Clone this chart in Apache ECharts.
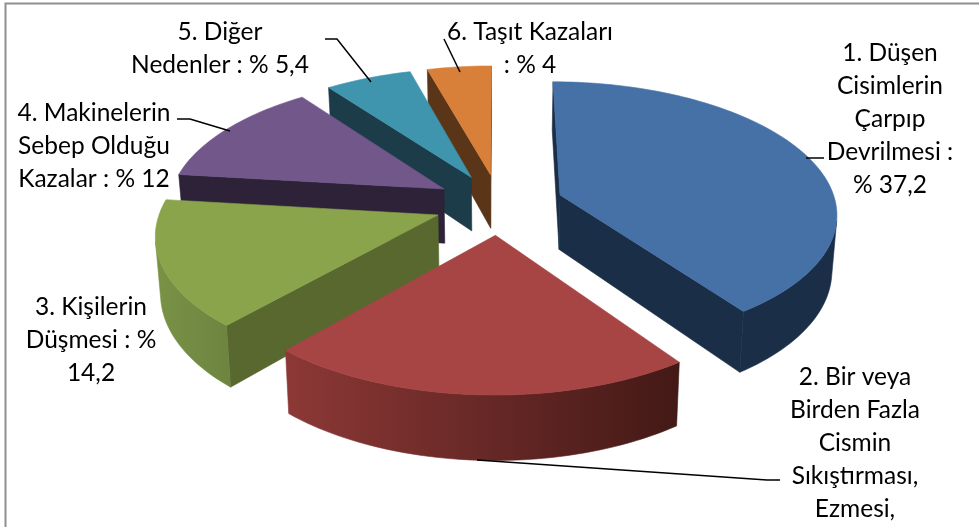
<!DOCTYPE html>
<html>
<head>
<meta charset="utf-8">
<style>html,body{margin:0;padding:0;background:#fff}#chart{width:979px;height:527px}</style>
<script src="https://cdn.jsdelivr.net/npm/echarts@6/dist/echarts.min.js"></script>
</head>
<body>
<div id="chart"></div>
<script>
// kaza nedenleri (%) - 2. dilimin etiketi kesik, değeri
const categories = ['Düşen Cisimlerin', 'Sıkıştırma', 'Kişilerin Düşmesi', 'Makineler', 'Diğer', 'Taşıt Kazaları']
const values = [37.2, 19.7, 14.2, 12, 5.4, 4]
const labelTexts = [
  '1. Düşen\nCisimlerin\nÇarpıp\nDevrilmesi :\n% 37,2',
  '2. Bir veya\nBirden Fazla\nCismin\nSıkıştırması,\nEzmesi,',
  '3. Kişilerin\nDüşmesi : %\n14,2',
  '4. Makinelerin\nSebep Olduğu\nKazalar : % 12',
  '5. Diğer\nNedenler : % 5,4',
  '6. Taşıt Kazaları\n: % 4'
]
const topColors = ['#4571a7', '#a64543', '#8aa44c', '#72578b', '#4095ae', '#d88039']
const wallColors = ['#1b2e47', '#4a1b19', '#58682f', '#2d2238', '#1b3c48', '#5a3518']
const outerColors = [
  ['#1b2e47', '#1b2e47'], ['#8c3836', '#431916'], ['#7a9245', '#6c843f'],
  ['#2d2238', '#2d2238'], ['#1b3c48', '#1b3c48'], ['#5a3518', '#5a3518']
]
// arkadan öne çizim sırası
const drawOrder = [5, 4, 3, 2, 0, 1]

// perspektif ayarları
const CX = 499, CY = 204, RX = 276, RY = 130, PERSP = 0.13, DEPTH = 55, BOTTOM_SHRINK = 0.985, EXPLODE = 0.234

const total = values.reduce((a, b) => a + b, 0)
const toRad = (d) => d * Math.PI / 180

function project(x, z, bottom) {
  const p = 1 / (1 + PERSP * z)
  let sx = CX + RX * x * p
  let sy = CY - RY * z * p
  if (bottom) {
    sx = CX + (sx - CX) * BOTTOM_SHRINK
    sy += DEPTH * p
  }
  return [sx, sy]
}

function area(pts) {
  let s = 0
  pts.forEach((p, i) => {
    const q = pts[(i + 1) % pts.length]
    s += p[0] * q[1] - q[0] * p[1]
  })
  return s
}

function sliceAngles(idx) {
  let sum = 0
  for (let i = 0; i < idx; i++) sum += values[i]
  return [sum / total * 360, (sum + values[idx]) / total * 360]
}

function poly(points, fill, stroke) {
  return {
    type: 'polygon',
    shape: { points },
    style: { fill, stroke: stroke || fill, lineWidth: 0.6 }
  }
}

function renderSlice(params, api) {
  const idx = api.value(0)
  const [a0, a1] = sliceAngles(idx)
  const mid = toRad((a0 + a1) / 2)
  const ox = Math.sin(mid) * EXPLODE
  const oz = Math.cos(mid) * EXPLODE
  const rim = (deg, bottom) => project(ox + Math.sin(toRad(deg)), oz + Math.cos(toRad(deg)), bottom)
  const apex = (bottom) => project(ox, oz, bottom)

  const steps = Math.ceil((a1 - a0) / 1.5)
  const angles = []
  for (let i = 0; i <= steps; i++) angles.push(a0 + (a1 - a0) * i / steps)

  const children = []
  // kesit yüzeyleri
  const startWall = [apex(false), rim(a0, false), rim(a0, true), apex(true)]
  const endWall = [apex(false), rim(a1, false), rim(a1, true), apex(true)]
  if (area(startWall) < 0) children.push(poly(startWall, wallColors[idx]))
  if (area(endWall) > 0) children.push(poly(endWall, wallColors[idx]))

  // dış kavisli yüzey
  const front = []
  for (let i = 0; i < steps; i++) {
    const q = [rim(angles[i], false), rim(angles[i + 1], false), rim(angles[i + 1], true), rim(angles[i], true)]
    if (area(q) < 0) {
      if (!front.length) front.push(angles[i])
      front.push(angles[i + 1])
    }
  }
  if (front.length) {
    const pts = front.map((d) => rim(d, false)).concat(front.slice().reverse().map((d) => rim(d, true)))
    const grad = new echarts.graphic.LinearGradient(0, 0, 1, 0, [
      { offset: 0, color: outerColors[idx][0] },
      { offset: 1, color: outerColors[idx][1] }
    ])
    children.push(poly(pts, grad, grad))
  }

  // üst yüzey
  children.push(poly([apex(false)].concat(angles.map((d) => rim(d, false))), topColors[idx]))
  return { type: 'group', children }
}

const labelPos = [[890, 37], [855, 361], [91, 291], [94, 97], [220, 16], [530, 16]]
const leaderLines = [
  [[806, 158], [824, 158]],
  [[477, 460], [767, 480], [780, 480]],
  [[177, 119], [190, 119], [230, 131]],
  [[325, 39], [337, 39], [371, 82]],
  [[444, 39], [460, 72]]
]

const chart = echarts.init(document.getElementById('chart'), null, { renderer: 'canvas' })
chart.setOption({
  backgroundColor: '#fff',
  animation: false,
  series: [{
    type: 'custom',
    coordinateSystem: 'none',
    silent: true,
    renderItem: renderSlice,
    data: drawOrder.map((i) => ({ name: categories[i], value: [i, values[i]] }))
  }],
  graphic: [
    { type: 'rect', shape: { x: 5.5, y: 3.5, width: 1200, height: 800 }, style: { fill: null, stroke: '#8f8f8f', lineWidth: 2 }, z: 1, silent: true }
  ].concat(leaderLines.map((points) => ({
    type: 'polyline', shape: { points }, style: { stroke: '#000', lineWidth: 1.5, fill: null }, z: 5, silent: true
  }))).concat(labelTexts.map((text, i) => ({
    type: 'text', x: labelPos[i][0], y: labelPos[i][1], z: 6, silent: true,
    style: { text, fill: '#000', font: '24.5px Lato', align: 'center', verticalAlign: 'top', lineHeight: 33 }
  })))
})
</script>
</body>
</html>
